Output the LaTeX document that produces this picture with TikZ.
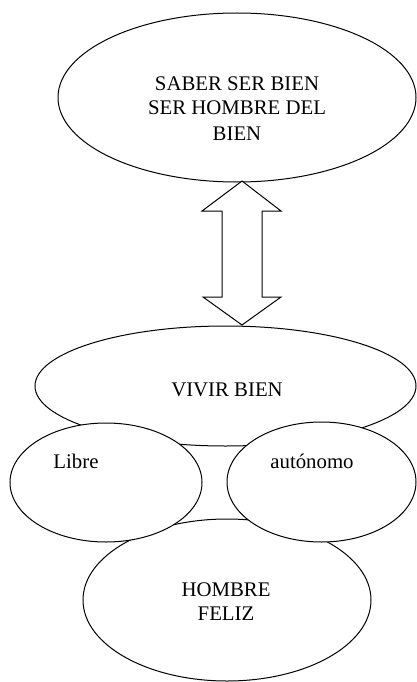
\documentclass[tikz,border=0pt]{standalone}
\usepackage{fontspec}
\setmainfont{Liberation Serif}
\usetikzlibrary{shapes.geometric}
\begin{document}
\begin{tikzpicture}[x=1pt,y=-1pt,
  oval/.style={ellipse, draw, fill=white, line width=1pt, inner sep=0pt},
  lbl/.style={font=\fontsize{20.8}{24}\selectfont, align=center, inner sep=0pt, anchor=base}]
\useasboundingbox (0,0) rectangle (416,682);

% upper ellipse
\node[oval, minimum width=358, minimum height=169] (saber) at (237,97.5) {};
\node[lbl] (t1) at (237,91) {SABER SER BIEN};
\node[lbl] (t2) at (237,114) {SER HOMBRE DEL};
\node[lbl] (t3) at (237,140) {BIEN};

% two-way block arrow
\coordinate (top) at (242,181);
\coordinate (bot) at (242,325);
\draw[line width=1pt, line join=miter, fill=white]
  (top) -- ++(39,30) -- ++(-19,0) -- ++(0,86) -- ++(19,0) -- (bot)
  -- ++(-39,-28) -- ++(19,0) -- ++(0,-86) -- ++(-20,0) -- cycle;

% lower group of ellipses
\node[oval, minimum width=381, minimum height=120] (vivir) at (225.5,386) {};
\node[lbl] (tv) at (227,396) {VIVIR BIEN};
\node[oval, minimum width=288, minimum height=162] (hombre) at (227,600) {};
\node[oval, minimum width=192, minimum height=119] (libre) at (106,482.5) {};
\node[oval, minimum width=189, minimum height=120] (auto) at (321.5,482) {};
\node[lbl] (tl) at (76,468) {Libre};
\node[lbl] (ta) at (312,468) {autónomo};
\node[lbl] (th1) at (226,596) {HOMBRE};
\node[lbl] (th2) at (226,620) {FELIZ};
\end{tikzpicture}
\end{document}
